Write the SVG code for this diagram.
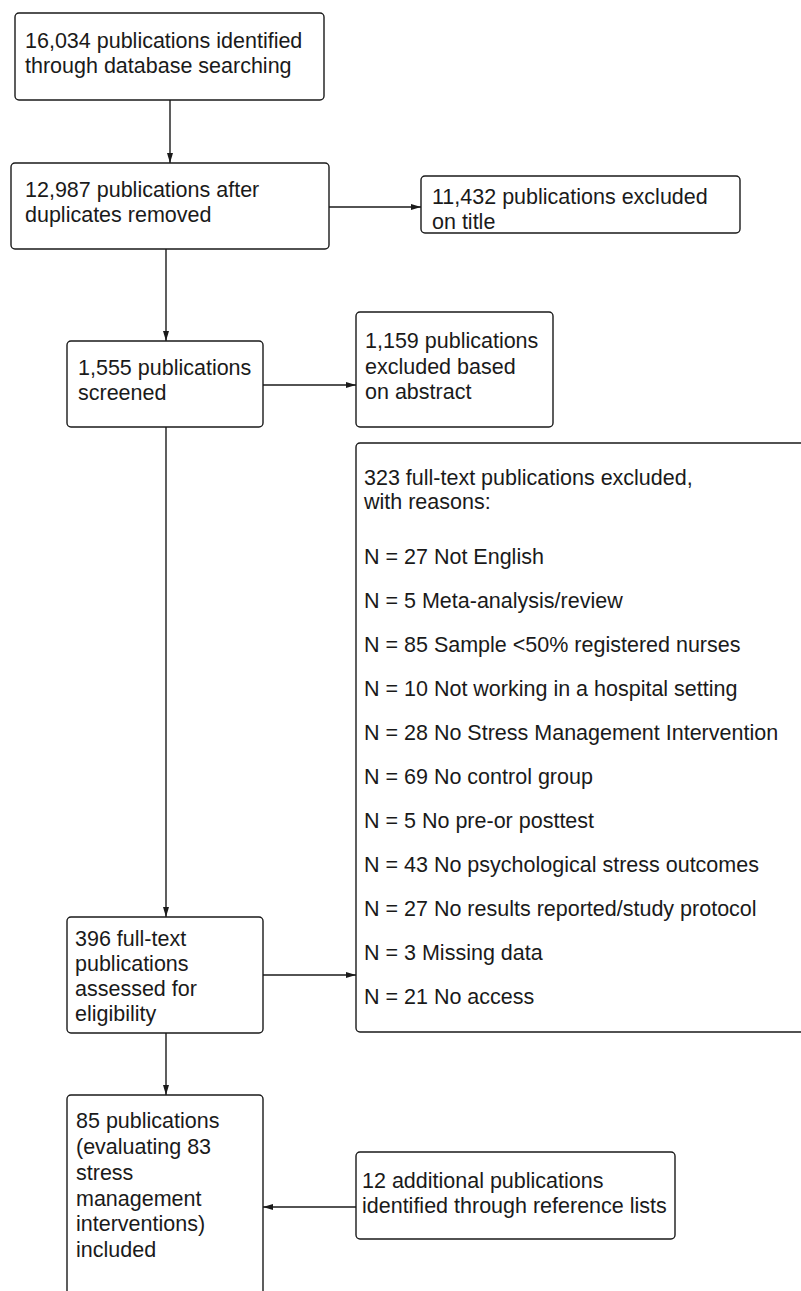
<svg xmlns="http://www.w3.org/2000/svg" width="801" height="1291" viewBox="0 0 801 1291">
<style>
.box{fill:#fff;stroke:#1a1a1a;stroke-width:1.4}
.t{font-family:"Liberation Sans",Arial,sans-serif;font-size:21.5px;fill:#1a1a1a}
.c{stroke:#1a1a1a;stroke-width:1.4;fill:none;marker-end:url(#ah)}
</style>
<defs>
<marker id="ah" markerUnits="userSpaceOnUse" markerWidth="11" markerHeight="8" refX="10" refY="4" orient="auto">
<path d="M0,1 L10,4 L0,7 z" fill="#1a1a1a"/>
</marker>
</defs>
<rect width="801" height="1291" fill="#fff"/>
<g id="connectors">
<line class="c" x1="170" y1="100" x2="170" y2="163"/>
<line class="c" x1="329" y1="207" x2="421" y2="207"/>
<line class="c" x1="166" y1="249" x2="166" y2="341"/>
<line class="c" x1="263" y1="385" x2="356" y2="385"/>
<line class="c" x1="166" y1="427" x2="166" y2="917"/>
<line class="c" x1="263" y1="975" x2="356" y2="975"/>
<line class="c" x1="166" y1="1033" x2="166" y2="1095"/>
<line class="c" x1="356" y1="1207" x2="263" y2="1207"/>
</g>
<g id="n1">
<rect class="box" x="15" y="13" width="309" height="87" rx="4"/>
<text class="t" x="25" y="48">16,034 publications identified</text>
<text class="t" x="25" y="73">through database searching</text>
</g>
<g id="n2">
<rect class="box" x="11" y="163" width="318" height="86" rx="4"/>
<text class="t" x="25" y="197">12,987 publications after</text>
<text class="t" x="25" y="222">duplicates removed</text>
</g>
<g id="n3">
<rect class="box" x="421" y="176" width="319" height="57" rx="4"/>
<text class="t" x="432" y="204">11,432 publications excluded</text>
<text class="t" x="432" y="229">on title</text>
</g>
<g id="n4">
<rect class="box" x="67" y="341" width="196" height="86" rx="4"/>
<text class="t" x="78" y="375">1,555 publications</text>
<text class="t" x="78" y="400">screened</text>
</g>
<g id="n5">
<rect class="box" x="356" y="312" width="197" height="115" rx="4"/>
<text class="t" x="365" y="348">1,159 publications</text>
<text class="t" x="365" y="374">excluded based</text>
<text class="t" x="365" y="399">on abstract</text>
</g>
<g id="n6">
<rect class="box" x="356" y="443" width="470" height="589" rx="4"/>
<text class="t" x="364" y="485">323 full-text publications excluded,</text>
<text class="t" x="364" y="509">with reasons:</text>
<text class="t" x="364" y="564">N = 27 Not English</text>
<text class="t" x="364" y="608">N = 5 Meta-analysis/review</text>
<text class="t" x="364" y="652">N = 85 Sample &lt;50% registered nurses</text>
<text class="t" x="364" y="696">N = 10 Not working in a hospital setting</text>
<text class="t" x="364" y="740">N = 28 No Stress Management Intervention</text>
<text class="t" x="364" y="784">N = 69 No control group</text>
<text class="t" x="364" y="828">N = 5 No pre-or posttest</text>
<text class="t" x="364" y="872">N = 43 No psychological stress outcomes</text>
<text class="t" x="364" y="916">N = 27 No results reported/study protocol</text>
<text class="t" x="364" y="960">N = 3 Missing data</text>
<text class="t" x="364" y="1004">N = 21 No access</text>
</g>
<g id="n7">
<rect class="box" x="67" y="917" width="196" height="116" rx="4"/>
<text class="t" x="75" y="946">396 full-text</text>
<text class="t" x="75" y="971">publications</text>
<text class="t" x="75" y="996">assessed for</text>
<text class="t" x="75" y="1021">eligibility</text>
</g>
<g id="n8">
<rect class="box" x="67" y="1095" width="196" height="230" rx="4"/>
<text class="t" x="76" y="1128">85 publications</text>
<text class="t" x="76" y="1154">(evaluating 83</text>
<text class="t" x="76" y="1180">stress</text>
<text class="t" x="76" y="1206">management</text>
<text class="t" x="76" y="1231">interventions)</text>
<text class="t" x="76" y="1257">included</text>
</g>
<g id="n9">
<rect class="box" x="356" y="1152" width="319" height="87" rx="4"/>
<text class="t" x="362" y="1188">12 additional publications</text>
<text class="t" x="362" y="1213">identified through reference lists</text>
</g>
</svg>
